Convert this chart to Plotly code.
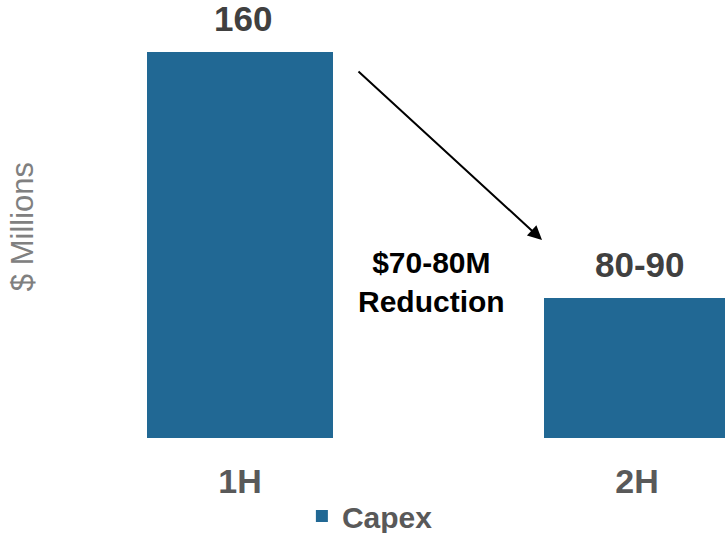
import plotly.graph_objects as go

# Capex by half-year
periods = ["1H", "2H"]
capex = [160, 85]
value_labels = ["160", "80-90"]
series_name = "Capex"
reduction_text = "$70-80M<br>Reduction"

BAR_COLOR = "#216894"
FONT = "Liberation Sans, Arial, sans-serif"

x_pos = list(range(len(periods)))

fig = go.Figure()
fig.add_trace(go.Bar(
    x=x_pos,
    y=capex,
    name=f"<b>{series_name}</b>",
    width=0.4685,
    marker=dict(color=BAR_COLOR, line=dict(width=0)),
    showlegend=True,
))

# value labels above each bar
for xi, v, lab in zip(x_pos, capex, value_labels):
    fig.add_annotation(
        x=xi, y=v, xref="x", yref="y",
        text=f"<b>{lab}</b>", showarrow=False,
        yanchor="bottom", yshift=12, xshift=3,
        font=dict(family=FONT, size=35, color="#404040"),
    )

# arrow from first bar toward the second
fig.add_annotation(
    x=0.7607, y=102.7, ax=0.2947, ay=154.5,
    xref="x", yref="y", axref="x", ayref="y",
    text="", showarrow=True,
    arrowhead=2, arrowsize=1.4, arrowwidth=2, arrowcolor="#000000",
    standoff=0, startstandoff=0,
)

fig.add_annotation(
    x=0.483, y=89.8, xref="x", yref="y",
    text=f"<b>{reduction_text}</b>", showarrow=False,
    font=dict(family=FONT, size=30, color="#000000"),
    align="center",
)

# vertical axis title
fig.add_annotation(
    x=-0.057, y=0.530, xref="paper", yref="paper",
    xanchor="center", yanchor="middle",
    text="$ Millions", showarrow=False, textangle=-90,
    font=dict(family=FONT, size=31, color="#808080"),
)

fig.update_layout(
    width=725, height=533,
    margin=dict(l=60, r=0, t=40, b=95, autoexpand=False),
    paper_bgcolor="white", plot_bgcolor="white",
    font=dict(family=FONT),
    xaxis=dict(
        range=[-0.4534, 1.2217],
        tickmode="array", tickvals=x_pos, ticktext=[f"<b>{p}</b>" for p in periods],
        tickfont=dict(family=FONT, size=34, color="#595959"),
        showgrid=False, zeroline=False, showline=False, ticks="",
        ticklabelstandoff=20, automargin=False,
    ),
    yaxis=dict(
        range=[42.3, 163.66],
        showticklabels=False, showgrid=False, zeroline=False, showline=False, ticks="",
        automargin=False,
    ),
    legend=dict(
        orientation="h", x=0.466, y=-0.196, xanchor="center", yanchor="middle",
        font=dict(family=FONT, size=30, color="#595959"),
        bgcolor="rgba(0,0,0,0)",
        itemwidth=30,
    ),
    bargap=0,
)

fig.write_html("out.html")
